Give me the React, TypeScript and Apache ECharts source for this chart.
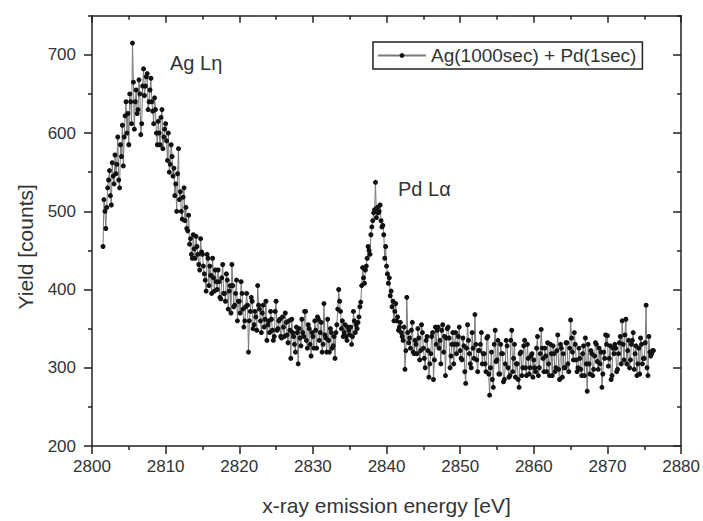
import React, { useEffect, useRef } from "react";
import * as echarts from "echarts";

// Energy grid step of each measured pass (eV); pass B is offset by half a step
const STEP = 0.25;
const HALF = 0.125;

// Ag Lη region: pass A 2801.500 .. 2820.750 eV, pass B 2801.625 .. 2820.875 eV
const AG_START = 2801.5;
const AG_REGION = [
  455, 500,
  505, 540, 520, 562,
  535, 548, 595, 530,
  570, 558, 622, 600,
  585, 640, 715, 605,
  655, 630, 650, 612,
  682, 660, 676, 640,
  670, 628, 645, 600,
  615, 585, 630, 595,
  612, 565, 550, 585,
  545, 520, 500, 580,
  525, 490, 530, 505,
  475, 458, 445, 470,
  440, 455, 432, 465,
  445, 420, 398, 440,
  430, 395, 415, 425,
  400, 410, 388, 432,
  395, 420, 375, 405,
  432, 378, 395, 360,
  385, 410, 375, 360,
];
const AG_REGION_B = [
  515, 478,
  530, 552, 508, 545,
  572, 560, 540, 585,
  610, 595, 640, 625,
  650, 612, 665, 640,
  625, 668, 598, 660,
  648, 672, 630, 655,
  640, 612, 630, 585,
  600, 620, 580, 605,
  590, 600, 560, 570,
  555, 535, 548, 515,
  500, 518, 488, 478,
  495, 465, 440, 452,
  468, 445, 425, 448,
  430, 412, 445, 405,
  418, 440, 398, 410,
  425, 390, 415, 395,
  385, 412, 398, 370,
  405, 380, 412, 385,
  370, 395, 352, 378,
];

// Valley between the peaks: 2821.000 .. 2835.875 eV
const VALLEY_START = 2821;
const VALLEY_REGION = [
  395, 320, 372, 385,
  355, 365, 405, 375,
  345, 380, 362, 335,
  360, 372, 348, 340,
  385, 350, 362, 338,
  352, 370, 342, 360,
  312, 345, 330, 352,
  305, 338, 362, 340,
  372, 325, 350, 315,
  340, 360, 325, 362,
  345, 320, 382, 338,
  362, 320, 345, 328,
  312, 355, 400, 372,
  360, 345, 340, 352,
  342, 330, 372, 345,
];
const VALLEY_REGION_B = [
  380, 360, 390, 350,
  372, 348, 380, 360,
  370, 352, 385, 355,
  345, 362, 335, 372,
  348, 360, 340, 365,
  340, 358, 332, 348,
  362, 340, 320, 345,
  350, 328, 345, 372,
  335, 355, 330, 345,
  325, 348, 365, 335,
  358, 330, 342, 320,
  335, 350, 325, 340,
  345, 375, 385, 350,
  340, 355, 335, 348,
  352, 340, 360, 355,
];

// Pd Lα region: 2836.000 .. 2845.875 eV
const PD_START = 2836;
const PD_REGION = [
  350, 365, 384, 428,
  408, 430, 455, 445,
  480, 498, 537, 505,
  500, 488, 482, 440,
  430, 408, 392, 378,
  360, 382, 365, 352,
  345, 335, 298, 390,
  332, 325, 358, 318,
  330, 350, 310, 355,
  325, 300, 340, 288,
];
const PD_REGION_B = [
  358, 378, 405, 415,
  425, 440, 450, 470,
  488, 502, 492, 498,
  508, 480, 470, 455,
  420, 415, 398, 385,
  372, 360, 348, 358,
  340, 352, 322, 345,
  338, 348, 320, 335,
  318, 338, 322, 345,
  312, 335, 322, 305,
];

// High-energy tail: 2846.000 .. 2876.250 eV
const TAIL_START = 2846;
const TAIL_REGION = [
  318, 345, 310, 330,
  352, 335, 348, 320,
  290, 350, 338, 315,
  345, 330, 318, 340,
  322, 310, 328, 280,
  355, 318, 300, 325,
  368, 310, 322, 330,
  305, 318, 295, 340,
  265, 320, 275, 348,
  310, 292, 330, 318,
  285, 335, 300, 290,
  348, 312, 288, 305,
  275, 320, 300, 335,
  290, 312, 300, 318,
  310, 295, 340, 300,
  349, 312, 325, 295,
  305, 330, 290, 318,
  300, 342, 285, 325,
  318, 300, 332, 295,
  361, 320, 345, 310,
  300, 312, 290, 328,
  338, 270, 305, 322,
  290, 315, 330, 298,
  305, 275, 320, 342,
  341, 312, 285, 325,
  330, 295, 318, 340,
  360, 310, 362, 322,
  300, 330, 345, 318,
  290, 325, 338, 305,
  312, 380, 290, 320,
  318, 322,
];
const TAIL_REGION_B = [
  340, 285, 352, 348,
  325, 305, 355, 340,
  338, 352, 300, 330,
  305, 345, 330, 352,
  312, 338, 295, 325,
  335, 305, 345, 312,
  330, 295, 322, 345,
  318, 305, 338, 292,
  300, 285, 330, 308,
  335, 292, 318, 282,
  305, 328, 288, 335,
  295, 330, 305, 285,
  318, 290, 328, 300,
  330, 292, 315, 288,
  300, 325, 290, 318,
  325, 295, 315, 332,
  290, 318, 328, 295,
  322, 298, 330, 288,
  300, 332, 305, 325,
  338, 310, 330, 295,
  325, 298, 318, 290,
  305, 330, 292, 318,
  298, 332, 308, 325,
  320, 292, 312, 330,
  302, 328, 290, 318,
  325, 298, 332, 305,
  330, 342, 305, 335,
  310, 335, 298, 328,
  305, 292, 330, 312,
  332, 300, 340, 315,
  322,
];

const SERIES_NAME = "Ag(1000sec) + Pd(1sec)";
const X_MIN = 2800;
const X_MAX = 2880;
const Y_MIN = 200;
const Y_MAX = 750;
const Y_MAJOR = [200, 300, 400, 500, 600, 700];
const Y_MINOR = [250, 350, 450, 550, 650, 750];

const SEGMENTS = [
  { start: AG_START, values: AG_REGION },
  { start: AG_START + HALF, values: AG_REGION_B },
  { start: VALLEY_START, values: VALLEY_REGION },
  { start: VALLEY_START + HALF, values: VALLEY_REGION_B },
  { start: PD_START, values: PD_REGION },
  { start: PD_START + HALF, values: PD_REGION_B },
  { start: TAIL_START, values: TAIL_REGION },
  { start: TAIL_START + HALF, values: TAIL_REGION_B },
];

const FONT = '"Liberation Sans", Arial, sans-serif';
const AXIS_COLOR = "#222";
const TEXT_COLOR = "#333";

export default function App() {
  const ref = useRef<HTMLDivElement>(null);

  useEffect(() => {
    if (!ref.current) return;
    const chart = echarts.init(ref.current, undefined, { renderer: "svg" });

    const data: number[][] = [];
    SEGMENTS.forEach((seg) => {
      seg.values.forEach((v, i) => data.push([seg.start + i * STEP, v]));
    });
    data.sort((a, b) => a[0] - b[0]);

    const lineStyle = { color: AXIS_COLOR, width: 1.5 };

    chart.setOption({
      animation: false,
      backgroundColor: "#fff",
      grid: { left: 92, right: 21.5, top: 15.7, bottom: 67.7 },
      legend: {
        data: [SERIES_NAME],
        left: 373,
        top: 42,
        padding: [4, 6, 4, 4],
        itemWidth: 48,
        itemHeight: 6,
        borderColor: AXIS_COLOR,
        borderWidth: 1.5,
        selectedMode: false,
        textStyle: { fontSize: 19, color: TEXT_COLOR, fontFamily: FONT },
      },
      xAxis: [
        {
          type: "value",
          position: "bottom",
          min: X_MIN,
          max: X_MAX,
          interval: 10,
          axisLine: { show: true, lineStyle },
          axisTick: { show: true, inside: false, length: 8, lineStyle },
          minorTick: { show: true, splitNumber: 2, length: 4, lineStyle },
          splitLine: { show: false },
          axisLabel: {
            fontSize: 17,
            color: TEXT_COLOR,
            margin: 12,
            fontFamily: FONT,
            formatter: (v: number) => String(v),
          },
          name: "x-ray emission energy [eV]",
          nameLocation: "middle",
          nameGap: 49,
          nameTextStyle: { fontSize: 21, color: TEXT_COLOR, fontFamily: FONT },
        },
        {
          type: "value",
          position: "top",
          min: X_MIN,
          max: X_MAX,
          interval: 10,
          axisLine: { show: true, lineStyle },
          axisTick: { show: true, inside: true, length: 7, lineStyle },
          minorTick: { show: true, splitNumber: 2, length: 4, lineStyle },
          splitLine: { show: false },
          axisLabel: { show: false },
        },
      ],
      yAxis: [
        {
          type: "value",
          position: "left",
          min: Y_MIN,
          max: Y_MAX,
          interval: 50,
          axisLine: { show: true, lineStyle },
          axisTick: { show: true, inside: false, length: 8, lineStyle, customValues: Y_MAJOR },
          splitLine: { show: false },
          axisLabel: {
            fontSize: 17,
            color: TEXT_COLOR,
            margin: 16,
            fontFamily: FONT,
            customValues: Y_MAJOR,
            formatter: (v: number) => String(v),
          },
          name: "Yield [counts]",
          nameLocation: "middle",
          nameGap: 56,
          nameTextStyle: {
            fontSize: 21,
            color: TEXT_COLOR,
            fontFamily: FONT,
            padding: [0, 32, 0, 0],
          },
        },
        {
          type: "value",
          position: "left",
          offset: 0,
          min: Y_MIN,
          max: Y_MAX,
          interval: 50,
          axisLine: { show: false },
          axisTick: { show: true, inside: false, length: 4, lineStyle, customValues: Y_MINOR },
          splitLine: { show: false },
          axisLabel: { show: false },
        },
        {
          type: "value",
          position: "right",
          offset: 0,
          min: Y_MIN,
          max: Y_MAX,
          interval: 50,
          axisLine: { show: true, lineStyle },
          axisTick: { show: true, inside: true, length: 8, lineStyle, customValues: Y_MAJOR },
          splitLine: { show: false },
          axisLabel: { show: false },
        },
        {
          type: "value",
          position: "right",
          offset: 0,
          min: Y_MIN,
          max: Y_MAX,
          interval: 50,
          axisLine: { show: false },
          axisTick: { show: true, inside: true, length: 4, lineStyle, customValues: Y_MINOR },
          splitLine: { show: false },
          axisLabel: { show: false },
        },
      ],
      series: [
        {
          name: SERIES_NAME,
          type: "line",
          xAxisIndex: 0,
          yAxisIndex: 0,
          data,
          showSymbol: true,
          showAllSymbol: true,
          symbol: "circle",
          symbolSize: 5,
          itemStyle: { color: "#111" },
          lineStyle: { color: "#7a7a7a", width: 1 },
        },
      ],
      graphic: [
        {
          type: "text",
          left: 170,
          top: 53,
          style: { text: "Ag Lη", fontSize: 20, fill: TEXT_COLOR, fontFamily: FONT },
        },
        {
          type: "text",
          left: 398,
          top: 179,
          style: { text: "Pd Lα", fontSize: 20, fill: TEXT_COLOR, fontFamily: FONT },
        },
      ],
    });

    return () => chart.dispose();
  }, []);

  return (
    <div
      ref={ref}
      style={{ position: "fixed", left: 0, top: 0, width: 703, height: 521 }}
    />
  );
}
